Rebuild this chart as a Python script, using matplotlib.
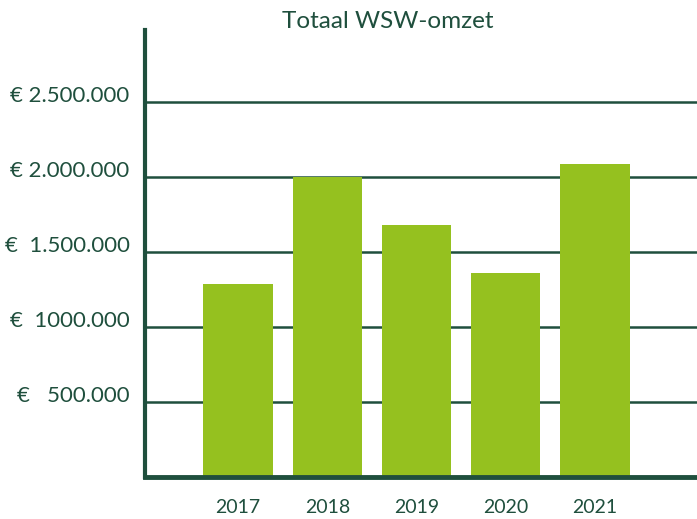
import matplotlib
matplotlib.use("Agg")
import matplotlib.pyplot as plt

# data
years = ["2017", "2018", "2019", "2020", "2021"]
omzet = [1290000, 2000000, 1680000, 1360000, 2090000]
yticks = [500000, 1000000, 1500000, 2000000, 2500000]
ylabels = ["€   500.000", "€  1000.000", "€  1.500.000", "€ 2.000.000", "€ 2.500.000"]

DARK = "#1f4f3d"
GREEN = "#95c11f"

plt.rcParams["font.family"] = ["Lato", "DejaVu Sans"]

fig = plt.figure(figsize=(6.97, 5.19), dpi=100)
ax = fig.add_axes([145 / 697, 42 / 519, 552 / 697, 447 / 519])

x = list(range(len(years)))
ax.bar(x, omzet, width=0.78, color=GREEN, zorder=3)

ax.set_xlim(-1.045, 5.146)
ax.set_ylim(0, 2980000)
ax.set_yticks(yticks)
ax.set_yticklabels(ylabels)
ax.set_xticks(x)
ax.set_xticklabels(years)
ax.tick_params(axis="both", length=0, colors=DARK)
ax.tick_params(axis="y", pad=11, labelsize=16)
ax.tick_params(axis="x", pad=16, labelsize=14)
# labels sit on the gridline rather than centred on it
for lab in ax.get_yticklabels():
    lab.set_va("baseline")

ax.grid(axis="y", color=DARK, linewidth=1.8, zorder=1)
for s in ("top", "right"):
    ax.spines[s].set_visible(False)
ax.spines["left"].set_color(DARK)
ax.spines["left"].set_linewidth(3)
ax.spines["bottom"].set_color(DARK)
ax.spines["bottom"].set_linewidth(3.5)
ax.spines["bottom"].set_zorder(4)

fig.text(388 / 697, 1 - 21 / 519, "Totaal WSW-omzet", ha="center", va="center",
         fontsize=17.5, color=DARK)

fig.savefig("out.png", dpi=100)
